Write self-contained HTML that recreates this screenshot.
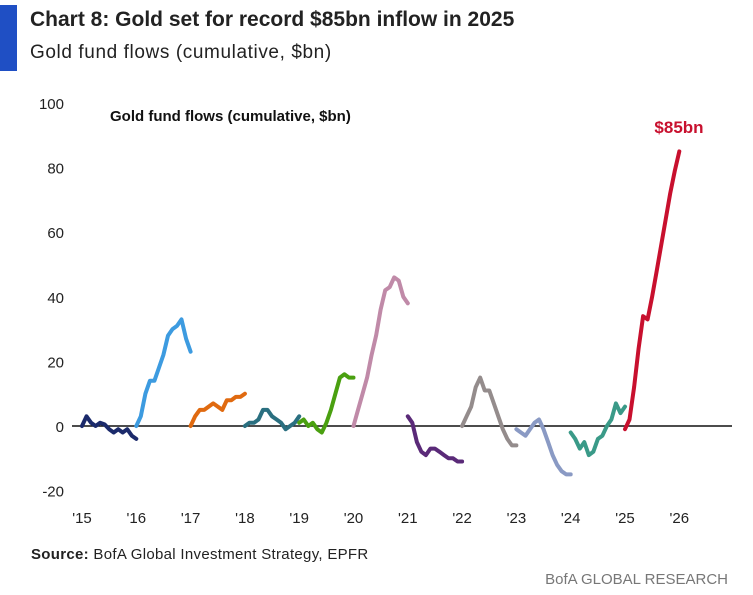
<!DOCTYPE html>
<html><head><meta charset="utf-8"><style>
body{margin:0;width:753px;height:595px;background:#fff;font-family:"Liberation Sans",sans-serif;overflow:hidden;position:relative}
.bar{position:absolute;left:0;top:5px;width:17px;height:66px;background:#1f4fc4}
.t{position:absolute;left:30px;top:8px;font-size:21px;font-weight:bold;color:#222}
.s{position:absolute;left:30px;top:42px;font-size:19px;color:#222;letter-spacing:0.6px}
.src{position:absolute;left:31px;top:546px;font-size:15px;color:#222;letter-spacing:0.3px}
.bofa{position:absolute;right:25px;top:571px;font-size:15px;color:#777}
svg{position:absolute;left:0;top:0}
</style></head><body>
<div class="bar"></div>
<div class="t">Chart 8: Gold set for record $85bn inflow in 2025</div>
<div class="s">Gold fund flows (cumulative, $bn)</div>
<svg id="c" width="753" height="595"></svg>
<div class="src"><b>Source:</b> BofA Global Investment Strategy, EPFR</div>
<div class="bofa">BofA GLOBAL RESEARCH</div>
<script>
const years=[2015,2016,2017,2018,2019,2020,2021,2022,2023,2024,2025];
const colors=["#1b2a6b","#3d9be0","#e06a10","#2a6f80","#4aa010","#c08aa8","#5a2a78","#948c8c","#8a9ac4","#3a9a88","#c8102e"];
const v2015=[0,3,1,0,1,0.5,-1,-2,-1,-2,-1,-3,-4];
const v2016=[0,3,10,14,14,18,22,28,30,31,33,27,23];
const v2017=[0,3,5,5,6,7,6,5,8,8,9,9,10];
const v2018=[0,1,1,2,5,5,3,2,1,-1,0,1,3];
const v2019=[1,2,0,1,-1,-2,1,5,10,15,16,15,15];
const v2020=[0,5,10,15,22,28,36,42,43,46,45,40,38];
const v2021=[3,1,-5,-8,-9,-7,-7,-8,-9,-10,-10,-11,-11];
const v2022=[0,3,6,12,15,11,11,7,3,-1,-4,-6,-6];
const v2023=[-1,-2,-3,-1,1,2,-1,-5,-9,-12,-14,-15,-15];
const v2024=[-2,-4,-7,-5,-9,-8,-4,-3,0,2,7,4,6];
const v2025=[-1,2,12,24,34,33,40,48,56,64,72,79,85];
const series=[v2015,v2016,v2017,v2018,v2019,v2020,v2021,v2022,v2023,v2024,v2025];
const yTicks=[100,80,60,40,20,0,-20];
const xTicks=["'15","'16","'17","'18","'19","'20","'21","'22","'23","'24","'25","'26"];
const X=t=>82+(t-2015)*54.3, Y=v=>426-v*3.23;
const svg=document.getElementById('c'), NS="http://www.w3.org/2000/svg";
function mk(tag,a,txt){const e=document.createElementNS(NS,tag);for(const k in a)e.setAttribute(k,a[k]);if(txt!==undefined)e.textContent=txt;svg.appendChild(e);return e;}
yTicks.forEach(v=>{const e=mk('text',{x:64,y:Y(v)+6,'text-anchor':'end','font-size':15,fill:'#222'},v);

});
xTicks.forEach((l,i)=>{const e=mk('text',{x:X(2015+i),y:523,'text-anchor':'middle','font-size':15,fill:'#222'},l);

});
const ax=mk('line',{x1:72,x2:732,y1:Y(0),y2:Y(0),stroke:'#111','stroke-width':1.5});


series.forEach((vals,i)=>{const pts=vals.map((v,j)=>X(years[i]+j/12).toFixed(1)+','+Y(v).toFixed(1)).join(' ');
const p=mk('polyline',{points:pts,fill:'none',stroke:colors[i],'stroke-width':4,'stroke-linejoin':'round','stroke-linecap':'round'});

});
const it=mk('text',{x:110,y:121,'font-size':15,'font-weight':'bold',fill:'#111'},'Gold fund flows (cumulative, $bn)');


const an=mk('text',{x:679,y:133,'text-anchor':'middle','font-size':17,'font-weight':'bold',fill:'#c8102e'},'$85bn');


</script>
</body></html>
